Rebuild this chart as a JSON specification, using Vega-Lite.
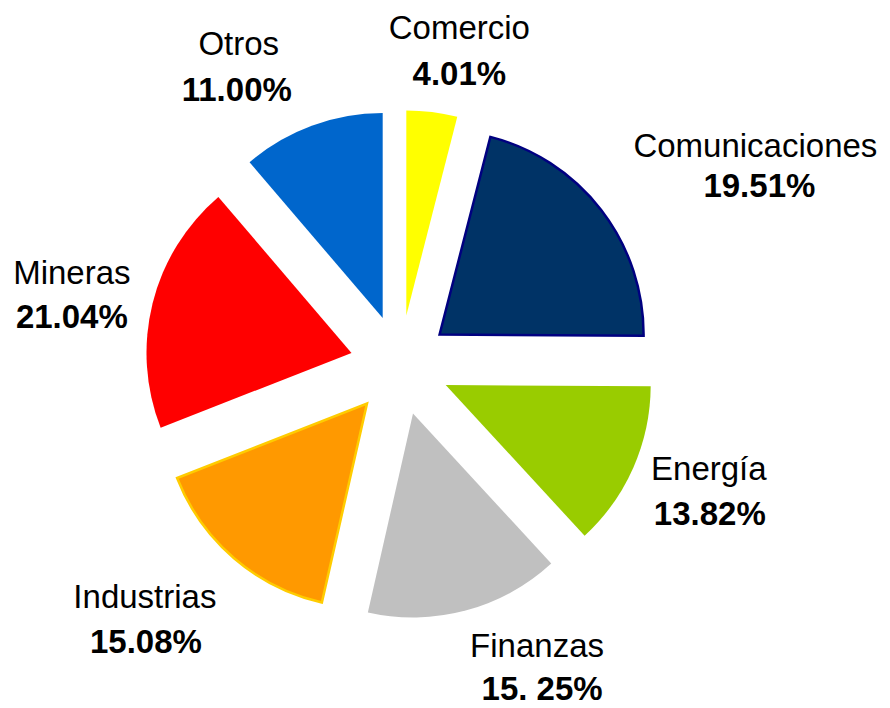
{
  "$schema": "https://vega.github.io/schema/vega-lite/v6.json",
  "autosize": {"type": "none"},
  "width": 800,
  "height": 686,
  "padding": {"left": 0, "top": 22, "right": 90, "bottom": 0},
  "background": "white",
  "config": {"view": {"stroke": null}},
  "data": {
    "values": [
      {"cat": "Comercio", "value": 4.0, "label": "4.01%"},
      {"cat": "Comunicaciones", "value": 21.1, "label": "19.51%"},
      {"cat": "Energía", "value": 13.05, "label": "13.82%"},
      {"cat": "Finanzas", "value": 15.4, "label": "15. 25%"},
      {"cat": "Industrias", "value": 15.5, "label": "15.08%"},
      {"cat": "Mineras", "value": 19.7, "label": "21.04%"},
      {"cat": "Otros", "value": 11.25, "label": "11.00%"}
    ]
  },
  "encoding": {
    "theta": {"field": "value", "type": "quantitative", "stack": true},
    "detail": {"field": "cat", "type": "nominal"},
    "order": {"field": "cat", "type": "ordinal", "sort": "ascending"}
  },
  "layer": [
    {
      "mark": {"type": "arc", "outerRadius": 205, "xOffset": 6.3, "yOffset": -49.6},
      "encoding": {
        "color": {"field": "cat", "type": "nominal", "legend": null,
          "scale": {"domain": ["Comercio", "Comunicaciones", "Energía", "Finanzas", "Industrias", "Mineras", "Otros"],
                    "range": ["#FFFF00", "#003366", "#99CC00", "#C0C0C0", "#FF9900", "#FF0000", "#0066CC"]}},
        "x": {"value": {"expr": "width/2"}},
        "y": {"value": {"expr": "height/2"}},
        "opacity": {"condition": {"test": "datum.cat === 'Comercio'", "value": 1}, "value": 0}
      }
    },
    {
      "mark": {"type": "arc", "outerRadius": 204, "xOffset": 39.6, "yOffset": -30.5, "stroke": "#000080", "strokeWidth": 2.5},
      "encoding": {
        "color": {"field": "cat", "type": "nominal", "legend": null},
        "x": {"value": {"expr": "width/2"}},
        "y": {"value": {"expr": "height/2"}},
        "opacity": {"condition": {"test": "datum.cat === 'Comunicaciones'", "value": 1}, "value": 0}
      }
    },
    {
      "mark": {"type": "arc", "outerRadius": 205, "xOffset": 45.7, "yOffset": 20},
      "encoding": {
        "color": {"field": "cat", "type": "nominal", "legend": null},
        "x": {"value": {"expr": "width/2"}},
        "y": {"value": {"expr": "height/2"}},
        "opacity": {"condition": {"test": "datum.cat === 'Energía'", "value": 1}, "value": 0}
      }
    },
    {
      "mark": {"type": "arc", "outerRadius": 204, "xOffset": 13, "yOffset": 48.5},
      "encoding": {
        "color": {"field": "cat", "type": "nominal", "legend": null},
        "x": {"value": {"expr": "width/2"}},
        "y": {"value": {"expr": "height/2"}},
        "opacity": {"condition": {"test": "datum.cat === 'Finanzas'", "value": 1}, "value": 0}
      }
    },
    {
      "mark": {"type": "arc", "outerRadius": 204, "xOffset": -33, "yOffset": 38.5, "stroke": "#FFCC00", "strokeWidth": 2.5},
      "encoding": {
        "color": {"field": "cat", "type": "nominal", "legend": null},
        "x": {"value": {"expr": "width/2"}},
        "y": {"value": {"expr": "height/2"}},
        "opacity": {"condition": {"test": "datum.cat === 'Industrias'", "value": 1}, "value": 0}
      }
    },
    {
      "mark": {"type": "arc", "outerRadius": 205, "xOffset": -48.5, "yOffset": -12.1},
      "encoding": {
        "color": {"field": "cat", "type": "nominal", "legend": null},
        "x": {"value": {"expr": "width/2"}},
        "y": {"value": {"expr": "height/2"}},
        "opacity": {"condition": {"test": "datum.cat === 'Mineras'", "value": 1}, "value": 0}
      }
    },
    {
      "mark": {"type": "arc", "outerRadius": 205, "xOffset": -17.3, "yOffset": -46.9},
      "encoding": {
        "color": {"field": "cat", "type": "nominal", "legend": null},
        "x": {"value": {"expr": "width/2"}},
        "y": {"value": {"expr": "height/2"}},
        "opacity": {"condition": {"test": "datum.cat === 'Otros'", "value": 1}, "value": 0}
      }
    },
    {"mark": {"type": "text", "radius": 330, "dx": 18, "dy": 1, "font": "Liberation Sans", "fontSize": 33, "align": "center", "baseline": "alphabetic", "color": "black"},
     "encoding": {"text": {"condition": {"test": "datum.cat === 'Comercio'", "field": "cat", "type": "nominal"}, "value": ""}}},
    {"mark": {"type": "text", "radius": 330, "dx": 18, "dy": 47, "font": "Liberation Sans", "fontSize": 33, "fontWeight": "bold", "align": "center", "baseline": "alphabetic", "color": "black"},
     "encoding": {"text": {"condition": {"test": "datum.cat === 'Comercio'", "field": "label", "type": "nominal"}, "value": ""}}},
    {"mark": {"type": "text", "radius": 330, "dx": 94, "dy": -7, "font": "Liberation Sans", "fontSize": 33, "align": "center", "baseline": "alphabetic", "color": "black"},
     "encoding": {"text": {"condition": {"test": "datum.cat === 'Comunicaciones'", "field": "cat", "type": "nominal"}, "value": ""}}},
    {"mark": {"type": "text", "radius": 330, "dx": 98, "dy": 33, "font": "Liberation Sans", "fontSize": 33, "fontWeight": "bold", "align": "center", "baseline": "alphabetic", "color": "black"},
     "encoding": {"text": {"condition": {"test": "datum.cat === 'Comunicaciones'", "field": "label", "type": "nominal"}, "value": ""}}},
    {"mark": {"type": "text", "radius": 330, "dx": 7, "dy": -18, "font": "Liberation Sans", "fontSize": 33, "align": "center", "baseline": "alphabetic", "color": "black"},
     "encoding": {"text": {"condition": {"test": "datum.cat === 'Energía'", "field": "cat", "type": "nominal"}, "value": ""}}},
    {"mark": {"type": "text", "radius": 330, "dx": 8, "dy": 27, "font": "Liberation Sans", "fontSize": 33, "fontWeight": "bold", "align": "center", "baseline": "alphabetic", "color": "black"},
     "encoding": {"text": {"condition": {"test": "datum.cat === 'Energía'", "field": "label", "type": "nominal"}, "value": ""}}},
    {"mark": {"type": "text", "radius": 330, "dx": 52, "dy": -27, "font": "Liberation Sans", "fontSize": 33, "align": "center", "baseline": "alphabetic", "color": "black"},
     "encoding": {"text": {"condition": {"test": "datum.cat === 'Finanzas'", "field": "cat", "type": "nominal"}, "value": ""}}},
    {"mark": {"type": "text", "radius": 330, "dx": 57, "dy": 16, "font": "Liberation Sans", "fontSize": 33, "fontWeight": "bold", "align": "center", "baseline": "alphabetic", "color": "black"},
     "encoding": {"text": {"condition": {"test": "datum.cat === 'Finanzas'", "field": "label", "type": "nominal"}, "value": ""}}},
    {"mark": {"type": "text", "radius": 330, "dx": -40, "dy": -7, "font": "Liberation Sans", "fontSize": 33, "align": "center", "baseline": "alphabetic", "color": "black"},
     "encoding": {"text": {"condition": {"test": "datum.cat === 'Industrias'", "field": "cat", "type": "nominal"}, "value": ""}}},
    {"mark": {"type": "text", "radius": 330, "dx": -39, "dy": 38, "font": "Liberation Sans", "fontSize": 33, "fontWeight": "bold", "align": "center", "baseline": "alphabetic", "color": "black"},
     "encoding": {"text": {"condition": {"test": "datum.cat === 'Industrias'", "field": "label", "type": "nominal"}, "value": ""}}},
    {"mark": {"type": "text", "radius": 330, "dx": -8, "dy": -1, "font": "Liberation Sans", "fontSize": 33, "align": "center", "baseline": "alphabetic", "color": "black"},
     "encoding": {"text": {"condition": {"test": "datum.cat === 'Mineras'", "field": "cat", "type": "nominal"}, "value": ""}}},
    {"mark": {"type": "text", "radius": 330, "dx": -8, "dy": 43, "font": "Liberation Sans", "fontSize": 33, "fontWeight": "bold", "align": "center", "baseline": "alphabetic", "color": "black"},
     "encoding": {"text": {"condition": {"test": "datum.cat === 'Mineras'", "field": "label", "type": "nominal"}, "value": ""}}},
    {"mark": {"type": "text", "radius": 330, "dx": -47, "dy": 0, "font": "Liberation Sans", "fontSize": 33, "align": "center", "baseline": "alphabetic", "color": "black"},
     "encoding": {"text": {"condition": {"test": "datum.cat === 'Otros'", "field": "cat", "type": "nominal"}, "value": ""}}},
    {"mark": {"type": "text", "radius": 330, "dx": -49, "dy": 46, "font": "Liberation Sans", "fontSize": 33, "fontWeight": "bold", "align": "center", "baseline": "alphabetic", "color": "black"},
     "encoding": {"text": {"condition": {"test": "datum.cat === 'Otros'", "field": "label", "type": "nominal"}, "value": ""}}}
  ]
}
